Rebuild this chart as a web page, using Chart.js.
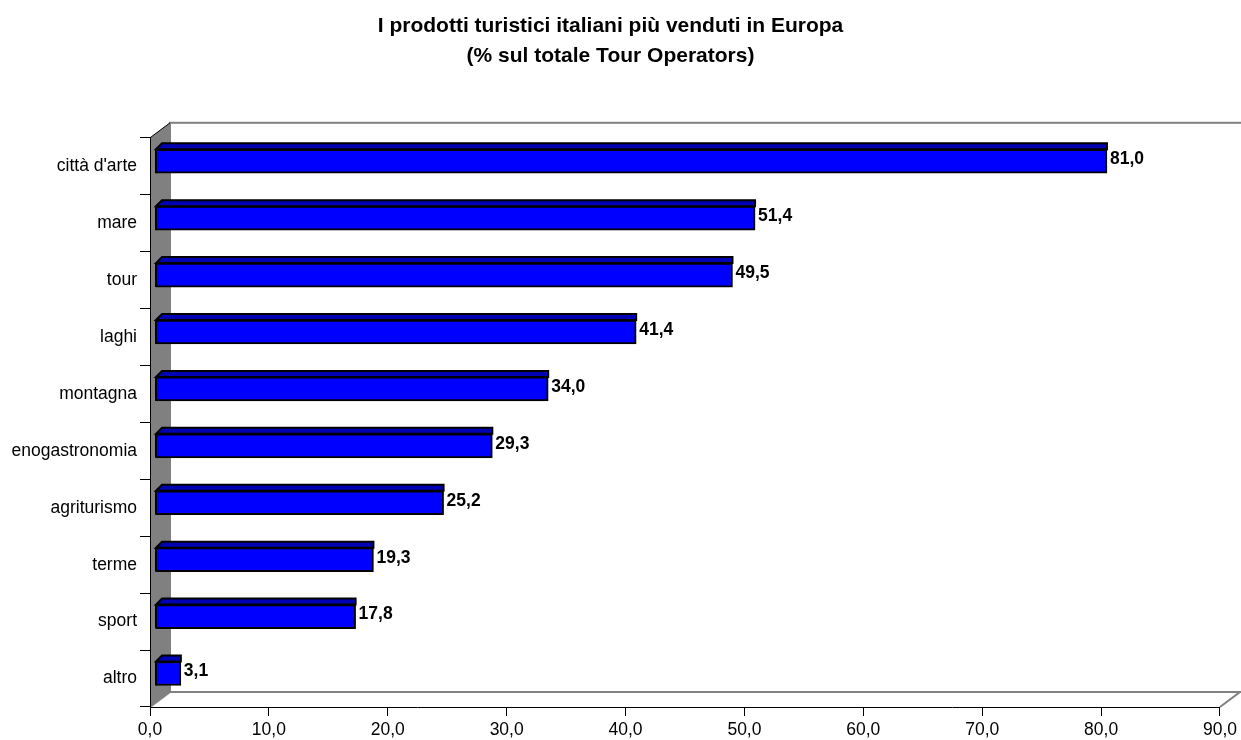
<!DOCTYPE html>
<html lang="it">
<head>
  <meta charset="UTF-8">
  <title>I prodotti turistici italiani più venduti in Europa</title>
  <style>
    body {
      margin: 0;
      background: #ffffff;
    }
    #chart {
      display: block;
    }
  </style>
</head>
<body>
  <canvas id="chart" width="1241" height="740"></canvas>

  <script src="https://cdn.jsdelivr.net/npm/chart.js"></script>
  <script>
    const categories = ["città d'arte", "mare", "tour", "laghi", "montagna", "enogastronomia", "agriturismo", "terme", "sport", "altro"];
    const values = [81.0, 51.4, 49.5, 41.4, 34.0, 29.3, 25.2, 19.3, 17.8, 3.1];
    const xMin = 0;
    const xMax = 90;
    const xStep = 10;
    const titleLines = ["I prodotti turistici italiani più venduti in Europa", "(% sul totale Tour Operators)"];

    const FONT = '"Liberation Sans", Arial, sans-serif';
    const DEPTH_X = 20, DEPTH_Y = -15;   // 3d depth of walls
    const SHIFT_X = -6, SHIFT_Y = -5;    // bars sit inside the depth
    const BAR_START = 6;                 // bars come out of the wall here
    const TOP_D = 6;                     // depth of the bar top face

    const fmt = v => Number(v).toFixed(1).replace('.', ',');

    // walls and floor drawn before the axes
    const walls = {
      id: 'walls',
      beforeDraw(chart) {
        const ctx = chart.ctx;
        const a = chart.chartArea;
        ctx.save();
        // back wall
        ctx.strokeStyle = '#808080';
        ctx.lineWidth = 2;
        ctx.strokeRect(a.left + DEPTH_X, a.top + DEPTH_Y, a.right - a.left + 16, a.bottom - a.top);
        // floor
        ctx.beginPath();
        ctx.moveTo(a.left, a.bottom);
        ctx.lineTo(a.left + DEPTH_X, a.bottom + DEPTH_Y);
        ctx.lineTo(a.right + DEPTH_X, a.bottom + DEPTH_Y);
        ctx.lineTo(a.right, a.bottom);
        ctx.fillStyle = '#ffffff';
        ctx.fill();
        ctx.stroke();
        // left wall
        ctx.beginPath();
        ctx.moveTo(a.left, a.top);
        ctx.lineTo(a.left + DEPTH_X, a.top + DEPTH_Y);
        ctx.lineTo(a.left + DEPTH_X, a.bottom + DEPTH_Y);
        ctx.lineTo(a.left, a.bottom);
        ctx.closePath();
        ctx.fillStyle = '#808080';
        ctx.fill();
        ctx.beginPath();
        ctx.moveTo(a.left, a.top);
        ctx.lineTo(a.left + DEPTH_X, a.top + DEPTH_Y);
        ctx.strokeStyle = '#000000';
        ctx.lineWidth = 1;
        ctx.stroke();
        ctx.restore();
      }
    };

    const bar3d = {
      id: 'bar3d',
      beforeDatasetsDraw(chart) {
        const ctx = chart.ctx;
        const a = chart.chartArea;
        ctx.save();
        ctx.beginPath();
        ctx.rect(a.left + BAR_START, 0, chart.width, chart.height);
        ctx.clip();
        ctx.translate(SHIFT_X, SHIFT_Y);
      },
      afterDatasetsDraw(chart) {
        const ctx = chart.ctx;
        const a = chart.chartArea;
        ctx.restore();
        const meta = chart.getDatasetMeta(0);
        ctx.save();
        meta.data.forEach((el, i) => {
          const p = el.getProps(['x', 'y', 'height'], true);
          const x0 = a.left + BAR_START;
          const x1 = p.x + SHIFT_X;
          const top = p.y + SHIFT_Y - p.height / 2;
          const bottom = p.y + SHIFT_Y + p.height / 2;
          // top face
          ctx.beginPath();
          ctx.moveTo(x0, top);
          ctx.lineTo(x0 + TOP_D, top - TOP_D);
          ctx.lineTo(x1, top - TOP_D);
          ctx.lineTo(x1, top);
          ctx.closePath();
          ctx.fillStyle = '#0000B4';
          ctx.fill();
          ctx.strokeStyle = '#000000';
          ctx.lineWidth = 2;
          ctx.stroke();
          // left edge
          ctx.beginPath();
          ctx.moveTo(x0, top);
          ctx.lineTo(x0, bottom);
          ctx.stroke();
          // value label
          ctx.fillStyle = '#000000';
          ctx.font = 'bold 17.5px ' + FONT;
          ctx.textAlign = 'left';
          ctx.textBaseline = 'middle';
          ctx.fillText(fmt(values[i]), x1 + 3, p.y + SHIFT_Y - 2);
        });
        ctx.restore();
      }
    };

    const ctx = document.getElementById('chart').getContext('2d');
    new Chart(ctx, {
      type: 'bar',
      data: {
        labels: categories,
        datasets: [{
          data: values,
          backgroundColor: '#0000FF',
          borderColor: '#000000',
          borderWidth: 2,
          borderSkipped: false,
          barThickness: 24
        }]
      },
      options: {
        indexAxis: 'y',
        responsive: false,
        animation: false,
        devicePixelRatio: 1,
        layout: {
          padding: { top: 0, right: 20, bottom: 0, left: 0 }
        },
        plugins: {
          legend: { display: false },
          tooltip: { enabled: false },
          title: {
            display: true,
            text: titleLines,
            color: '#000000',
            font: { family: FONT, size: 21, weight: 'bold', lineHeight: 1.4 },
            padding: { top: 12, bottom: 67 }
          }
        },
        scales: {
          x: {
            min: xMin,
            max: xMax,
            ticks: {
              stepSize: xStep,
              color: '#000000',
              font: { family: FONT, size: 17.5 },
              padding: 4,
              maxRotation: 0,
              callback: v => fmt(v)
            },
            grid: {
              drawOnChartArea: false,
              drawTicks: true,
              tickLength: 9,
              color: '#000000'
            },
            border: { display: true, color: '#000000', width: 1 },
            afterFit: s => { s.height = 33; }
          },
          y: {
            ticks: {
              color: '#000000',
              font: { family: FONT, size: 17.5 },
              padding: 3
            },
            grid: {
              drawOnChartArea: false,
              drawTicks: true,
              tickLength: 10,
              offset: true,
              color: '#000000'
            },
            border: { display: true, color: '#000000', width: 1 },
            afterFit: s => { s.width = 150; }
          }
        }
      },
      plugins: [walls, bar3d]
    });
  </script>
</body>
</html>
